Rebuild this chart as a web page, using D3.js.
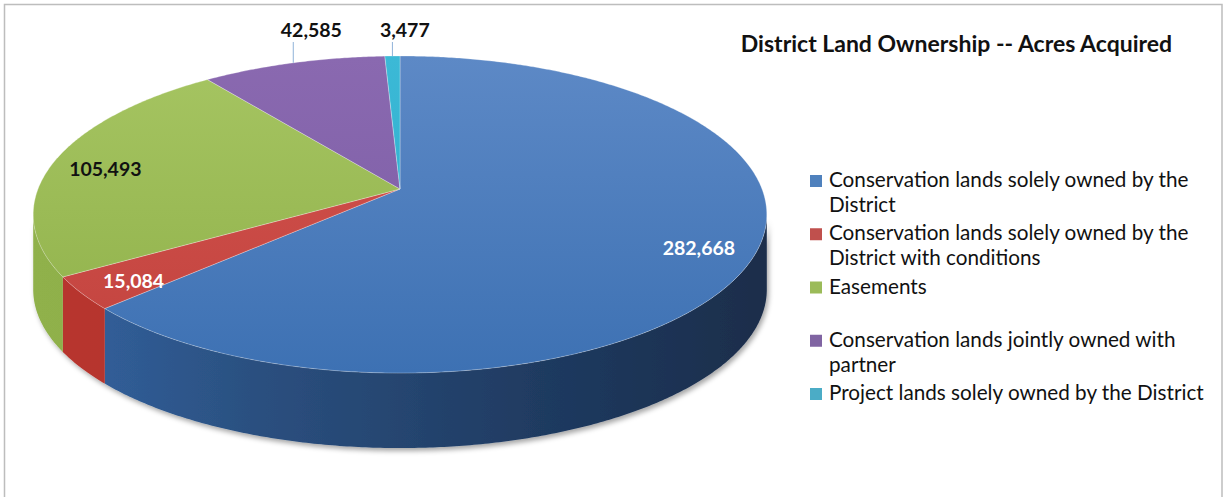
<!DOCTYPE html>
<html>
<head>
<meta charset="utf-8">
<script src="https://cdn.jsdelivr.net/npm/d3@7/dist/d3.min.js"></script>
<style>
  html, body { margin: 0; padding: 0; background: #fff; }
  svg { display: block; }
</style>
</head>
<body>
<svg id="chart" width="1226" height="497"></svg>
<script>
// ---- data ----
const categories = [
  "Conservation lands solely owned by the District",
  "Conservation lands solely owned by the District with conditions",
  "Easements",
  "Conservation lands jointly owned with partner",
  "Project lands solely owned by the District"
];
const acres = [282668, 15084, 105493, 42585, 3477];
const legendLines = [
  ["Conservation lands solely owned by the", "District"],
  ["Conservation lands solely owned by the", "District with conditions"],
  ["Easements"],
  ["Conservation lands jointly owned with", "partner"],
  ["Project lands solely owned by the District"]
];
const chartTitle = "District Land Ownership -- Acres Acquired";

// ---- styling ----
const topColors  = [["#5d89c6", "#3d71b3"], ["#d3534e", "#c2433e"], ["#a6c562", "#8fb049"], ["#8a69b0", "#7a5ca4"], ["#3cb9d6", "#27aacb"]];
const sideColors = [["#3364a3", "#1a2d4a"], ["#b8352f", "#a92e2a"], ["#90b14b", "#82a33f"], ["#6f5291", "#5e457d"], ["#23a0bd", "#1b8aa5"]];
const keyColors  = ["#4f81bd", "#c0504d", "#9bbb59", "#8064a2", "#4bacc6"];
const fontFamily = "Lato, 'Open Sans', sans-serif";

const svg = d3.select("#chart");
const defs = svg.append("defs");

// Outer frame of the chart area
svg.append("rect")
  .attr("x", 4.5).attr("y", 4.5)
  .attr("width", 1217.5).attr("height", 520)
  .attr("fill", "#fff").attr("stroke", "#bdbdbd").attr("stroke-width", 1.5);

// ---- perspective pie geometry ----
const cx = 400, cy = 189;      // projected centre of the pie top
const rX = 362, rZ = 124;      // horizontal / depth radii
const persp = -0.161;          // perspective foreshortening
const depth = 75;              // thickness of the disc

function project(r, a) {
  const X = r * Math.sin(a), Z = -r * Math.cos(a);
  const w = 1 + persp * Z;
  return [cx + rX * X / w, (rZ * Z + cy) / w];
}

const pie = d3.pie().sort(null).value(d => d);
const arcs = pie(acres);

function rimPoints(a0, a1, r = 1) {
  const n = Math.max(2, Math.ceil((a1 - a0) / (Math.PI / 360)));
  return d3.range(n + 1).map(i => project(r, a0 + (a1 - a0) * i / n));
}

// gradients
arcs.forEach((d, i) => {
  const gt = defs.append("linearGradient").attr("id", "top" + i)
    .attr("gradientUnits", "userSpaceOnUse").attr("x1", 0).attr("x2", 0).attr("y1", 56).attr("y2", 373);
  gt.append("stop").attr("offset", 0).attr("stop-color", topColors[i][0]);
  gt.append("stop").attr("offset", 1).attr("stop-color", topColors[i][1]);
  const gs = defs.append("linearGradient").attr("id", "side" + i)
    .attr("gradientUnits", "userSpaceOnUse").attr("x1", 30).attr("x2", 770).attr("y1", 0).attr("y2", 0);
  gs.append("stop").attr("offset", 0).attr("stop-color", sideColors[i][0]);
  if (i === 0) {
    gs.append("stop").attr("offset", 0.3).attr("stop-color", "#2b5080");
    gs.append("stop").attr("offset", 0.7).attr("stop-color", "#1f3a60");
  }
  gs.append("stop").attr("offset", 1).attr("stop-color", sideColors[i][1]);
});

const shadow = defs.append("filter").attr("id", "shadow")
  .attr("x", "-10%").attr("y", "-10%").attr("width", "120%").attr("height", "130%");
shadow.append("feDropShadow").attr("dx", 2).attr("dy", 3).attr("stdDeviation", 2.5)
  .attr("flood-color", "#000").attr("flood-opacity", 0.35);

// ---- side walls (front half only) ----
const aRight = Math.acos(persp), aLeft = 2 * Math.PI - aRight;
const sideG = svg.append("g").attr("filter", "url(#shadow)");
arcs.forEach((d, i) => {
  const s = Math.max(d.startAngle, aRight), e = Math.min(d.endAngle, aLeft);
  if (s >= e) return;
  const top = rimPoints(s, e);
  const bottom = top.map(p => [p[0], p[1] + depth]).reverse();
  sideG.append("path")
    .attr("d", d3.line()(top.concat(bottom)) + "Z")
    .attr("fill", `url(#side${i})`);
});

// ---- top faces ----
const topG = svg.append("g");
arcs.forEach((d, i) => {
  const pts = [project(0, 0)].concat(rimPoints(d.startAngle, d.endAngle));
  topG.append("path")
    .attr("d", d3.line()(pts) + "Z")
    .attr("fill", `url(#top${i})`)
    .attr("stroke", "rgba(255,255,255,0.35)").attr("stroke-width", 0.8)
    .attr("stroke-linejoin", "round");
});

// ---- data labels ----
const fmt = d3.format(",");
const labelMode = ["inside", "inside", "inside", "outside", "outside"];
const labelFill = ["#fff", "#fff", "#111", "#111", "#111"];
const labelG = svg.append("g")
  .attr("font-family", fontFamily).attr("font-weight", "bold").attr("font-size", 19.5);
arcs.forEach((d, i) => {
  const mid = (d.startAngle + d.endAngle) / 2;
  if (labelMode[i] === "inside") {
    const [x, y] = project(0.85, mid);
    labelG.append("text").attr("x", x).attr("y", y + 4)
      .attr("text-anchor", "middle").attr("dominant-baseline", "central")
      .attr("fill", labelFill[i]).text(fmt(d.data));
  } else {
    const [x, y] = project(1, mid);
    labelG.append("line")
      .attr("x1", x).attr("x2", x).attr("y1", y).attr("y2", 42)
      .attr("stroke", "#8fb3d9").attr("stroke-width", 1);
    labelG.append("text").attr("x", x - 12.5).attr("y", 37)
      .attr("fill", labelFill[i]).text(fmt(d.data));
  }
});

// ---- title ----
svg.append("text")
  .attr("x", 956.5).attr("y", 52)
  .attr("text-anchor", "middle")
  .attr("font-family", fontFamily).attr("font-weight", "bold").attr("font-size", 23)
  .attr("fill", "#111")
  .text(chartTitle);

// ---- legend ----
const legend = svg.append("g").attr("font-family", fontFamily).attr("font-size", 20.7).attr("fill", "#111");
const rowBase = 187, rowStep = 53.25, lineStep = 25;
legendLines.forEach((lines, i) => {
  const y0 = rowBase + rowStep * i;
  legend.append("rect").attr("x", 810).attr("y", y0 - 12).attr("width", 12).attr("height", 12)
    .attr("fill", keyColors[i]);
  lines.forEach((t, j) => {
    legend.append("text").attr("x", 829).attr("y", y0 + j * lineStep).text(t);
  });
});
</script>
</body>
</html>
